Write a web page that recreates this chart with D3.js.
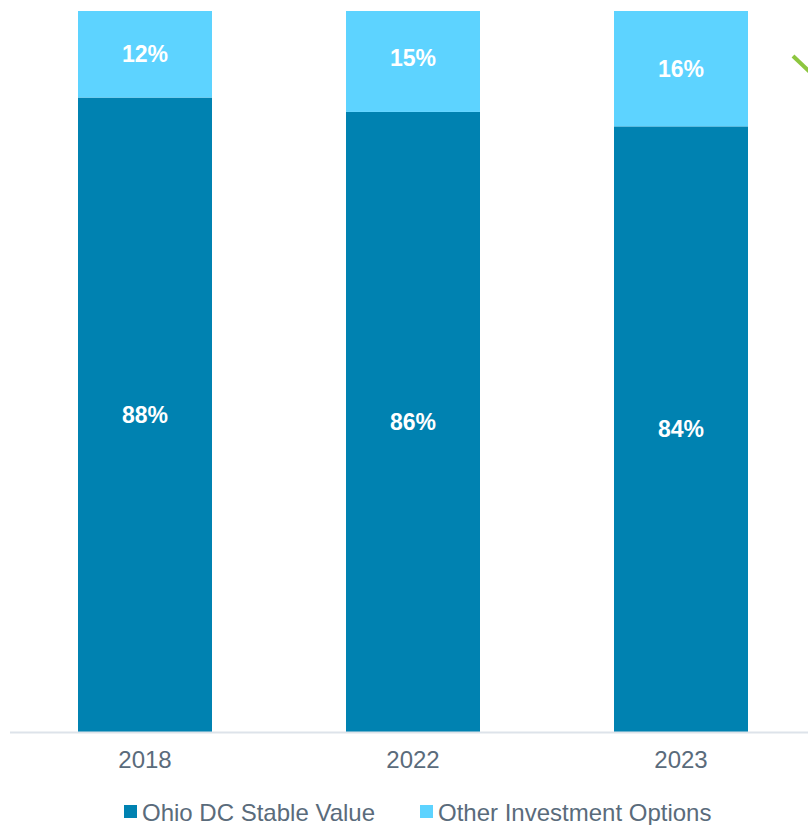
<!DOCTYPE html>
<html>
<head>
<meta charset="utf-8">
<script src="https://cdn.jsdelivr.net/npm/d3@7"></script>
<style>
  html, body { margin: 0; padding: 0; background: #fff; }
  svg { display: block; font-family: "Liberation Sans", Arial, sans-serif; }
</style>
</head>
<body>
<svg id="chart" width="808" height="825"></svg>
<script>
// Share of assets by year
const years = ["2018", "2022", "2023"];
const stableValue = [88, 86, 84];
const otherOptions = [12, 15, 16];
const seriesNames = ["Ohio DC Stable Value", "Other Investment Options"];
const seriesColors = ["#0082b1", "#5dd3ff"];

const svg = d3.select("#chart");
const W = 808, H = 825;
const baseY = 732, topY = 11;

const x = d3.scaleBand()
  .domain(years)
  .range([11, 815])
  .paddingInner(0.5)
  .paddingOuter(0.25);

const y = d3.scaleLinear().domain([0, 100]).range([baseY, topY]);
const yc = v => y(Math.min(v, 100));

const rows = years.map((yr, i) => ({ year: yr, s0: stableValue[i], s1: otherOptions[i] }));
const stack = d3.stack().keys(["s0", "s1"]);
const layers = stack(rows);

// bars (anything above 100% is cut at the plot top)
const g = svg.append("g");
layers.forEach((layer, li) => {
  g.selectAll(null)
    .data(layer)
    .join("rect")
    .attr("x", d => x(d.data.year))
    .attr("width", x.bandwidth())
    .attr("y", d => yc(d[1]))
    .attr("height", d => yc(d[0]) - yc(d[1]))
    .attr("fill", seriesColors[li]);
});

// value labels
layers.forEach((layer, li) => {
  g.selectAll(null)
    .data(layer)
    .join("text")
    .attr("x", d => x(d.data.year) + x.bandwidth() / 2)
    .attr("y", d => (y(d[0]) + y(d[1])) / 2)
    .attr("dy", "0.35em")
    .attr("text-anchor", "middle")
    .attr("fill", "#ffffff")
    .attr("font-weight", "bold")
    .attr("font-size", 23)
    .text(d => (d[1] - d[0]) + "%");
});

// baseline axis
const axis = d3.axisBottom(x).tickSize(0).tickPadding(0);
const ag = svg.append("g").attr("transform", `translate(0,${baseY})`).call(axis);
ag.select(".domain").remove();
ag.append("line")
  .attr("x1", 10).attr("x2", W)
  .attr("y1", 0.5).attr("y2", 0.5)
  .attr("stroke", "#dde3ea").attr("stroke-width", 2);
ag.selectAll(".tick text")
  .attr("y", 36)
  .attr("dy", null)
  .attr("font-size", 24)
  .attr("fill", "#5a6b7b")
  .attr("font-family", "Liberation Sans, Arial, sans-serif");

// green trend marker at top right edge
svg.append("line")
  .attr("x1", 793).attr("y1", 56)
  .attr("x2", 812).attr("y2", 74)
  .attr("stroke", "#8dc63f").attr("stroke-width", 4);

// legend
const legendItems = [
  { name: seriesNames[0], color: seriesColors[0], x: 124 },
  { name: seriesNames[1], color: seriesColors[1], x: 420 }
];
const lg = svg.append("g");
legendItems.forEach(it => {
  lg.append("rect")
    .attr("x", it.x).attr("y", 805)
    .attr("width", 13).attr("height", 13)
    .attr("fill", it.color);
  lg.append("text")
    .attr("x", it.x + 18).attr("y", 820.5)
    .attr("font-size", 24)
    .attr("fill", "#5a6b7b")
    .text(it.name);
});
</script>
</body>
</html>
